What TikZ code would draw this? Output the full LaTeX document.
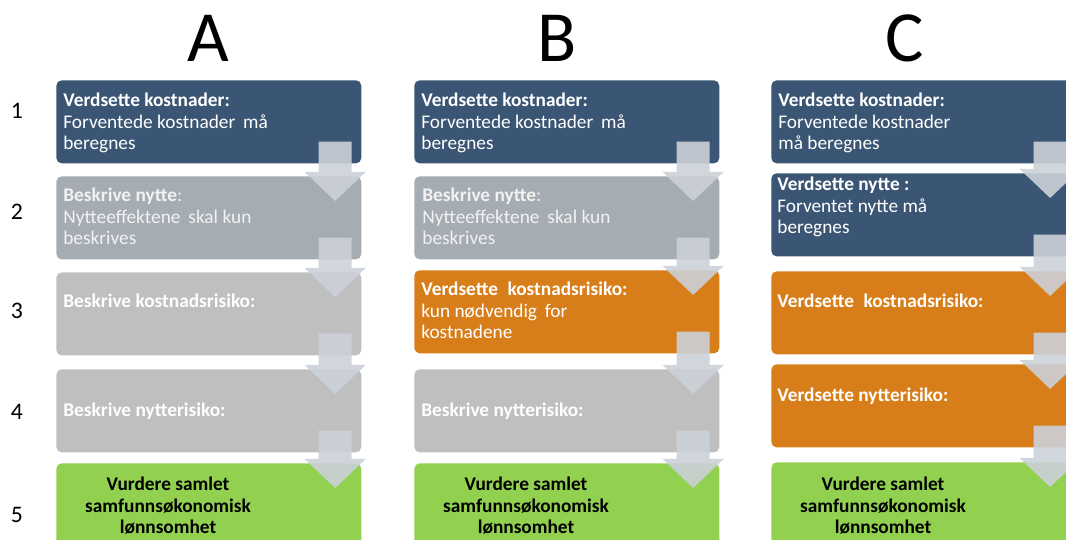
\documentclass[tikz,border=0pt]{standalone}
\usepackage{fontspec}
\setmainfont{Carlito}
\usetikzlibrary{calc}

\definecolor{valblue}{RGB}{59,86,116}
\definecolor{descgray}{RGB}{166,172,179}
\definecolor{riskgray}{RGB}{191,191,191}
\definecolor{riskorange}{RGB}{215,126,26}
\definecolor{sumgreen}{RGB}{146,208,80}
\definecolor{arrowgray}{RGB}{204,209,216}

% block arrow from the lower right of one box into the next
\newcommand{\flowarrow}[2]{%
  \fill[flowarr] ($(#1.south east)+(-43,-22)$) -- ($(#1.south east)+(-10,-22)$)
    -- ($(#2.north east)+(-10,-4)$) -- ($(#2.north east)+(4,-4)$)
    -- ($(#2.north east)+(-26.5,25)$) -- ($(#2.north east)+(-57,-4)$)
    -- ($(#2.north east)+(-43,-4)$) -- cycle;}

\begin{document}
\begin{tikzpicture}[
  x=0.02cm, y=-0.02cm,
  every node/.style={font=\fontsize{11}{12.4}\selectfont},
  stepbox/.style={rounded corners=3pt, anchor=north west, inner sep=0pt, minimum width=6.1cm, minimum height=1.66cm},
  lastbox/.style={stepbox, fill=sumgreen, minimum height=2cm},
  boxtxt/.style={anchor=base west, align=left, inner sep=0pt, text=white},
  midtxt/.style={anchor=west, inner sep=0pt, text=white, font=\fontsize{11}{12.4}\selectfont\bfseries},
  sumtxt/.style={anchor=base, align=center, inner sep=0pt, text=black, font=\fontsize{11}{12.4}\selectfont\bfseries},
  colhead/.style={anchor=base, inner sep=0pt, font=\fontsize{41}{41}\selectfont},
  rownum/.style={anchor=base, inner sep=0pt, font=\fontsize{13.5}{13.5}\selectfont},
  flowarr/.style={fill=arrowgray, fill opacity=0.9}
]
\useasboundingbox (0,0) rectangle (1066,540);
\clip (0,0) rectangle (1066,540);

% column and row headings
\node[colhead] (hA) at (208,62) {A};
\node[colhead] (hB) at (557,62) {B};
\node[colhead] (hC) at (905,62) {C};
\node[rownum] (n1) at (17,119) {1};
\node[rownum] (n2) at (17,220) {2};
\node[rownum] (n3) at (17,319) {3};
\node[rownum] (n4) at (17,420) {4};
\node[rownum] (n5) at (17,523) {5};

% column A
\node[stepbox, fill=valblue] (a1) at (56,80) {};
\node[stepbox, fill=descgray] (a2) at (56,176) {};
\node[stepbox, fill=riskgray] (a3) at (56,272) {};
\node[stepbox, fill=riskgray] (a4) at (56,369) {};
\node[lastbox] (a5) at (56,463) {};

% column B
\node[stepbox, fill=valblue] (b1) at (414,80) {};
\node[stepbox, fill=descgray] (b2) at (414,176) {};
\node[stepbox, fill=riskorange] (b3) at (414,270) {};
\node[stepbox, fill=riskgray] (b4) at (414,369) {};
\node[lastbox] (b5) at (414,463) {};

% column C
\node[stepbox, fill=valblue] (c1) at (771,80) {};
\node[stepbox, fill=valblue] (c2) at (771,173) {};
\node[stepbox, fill=riskorange] (c3) at (771,271) {};
\node[stepbox, fill=riskorange] (c4) at (771,364) {};
\node[lastbox] (c5) at (771,462) {};

% texts (base = last line)
\node[boxtxt] (a1txt) at ($(a1.north west)+(7,70)$) {\textbf{Verdsette kostnader:}\\Forventede kostnader\hspace{2pt} må\\beregnes};
\node[boxtxt, text=white!95!black] (a2txt) at ($(a2.north west)+(7,69)$) {\textbf{Beskrive nytte}:\\Nytteeffektene\hspace{2pt} skal kun\\beskrives};
\node[midtxt] (a3txt) at ($(a3.north west)+(7,29)$) {Beskrive kostnadsrisiko:};
\node[midtxt] (a4txt) at ($(a4.north west)+(7,42)$) {Beskrive nytterisiko:};
\node[sumtxt] (a5txt) at ($(a5.north west)+(112,71)$) {Vurdere samlet\\samfunnsøkonomisk\\lønnsomhet};

\node[boxtxt] (b1txt) at ($(b1.north west)+(7,70)$) {\textbf{Verdsette kostnader:}\\Forventede kostnader\hspace{2pt} må\\beregnes};
\node[boxtxt, text=white!95!black] (b2txt) at ($(b2.north west)+(8,69)$) {\textbf{Beskrive nytte}:\\Nytteeffektene\hspace{2pt} skal kun\\beskrives};
\node[boxtxt] (b3txt) at ($(b3.north west)+(7,69)$) {\textbf{Verdsette\hspace{3pt} kostnadsrisiko:}\\kun nødvendig\hspace{2pt} for\\kostnadene};
\node[midtxt] (b4txt) at ($(b4.north west)+(7,42)$) {Beskrive nytterisiko:};
\node[sumtxt] (b5txt) at ($(b5.north west)+(112,71)$) {Vurdere samlet\\samfunnsøkonomisk\\lønnsomhet};

\node[boxtxt] (c1txt) at ($(c1.north west)+(7,70)$) {\textbf{Verdsette kostnader:}\\Forventede kostnader\\må beregnes};
\node[boxtxt] (c2txt) at ($(c2.north west)+(6,61)$) {\textbf{Verdsette nytte :}\\Forventet nytte må\\beregnes};
\node[midtxt] (c3txt) at ($(c3.north west)+(6,30)$) {Verdsette\hspace{3pt} kostnadsrisiko:};
\node[midtxt] (c4txt) at ($(c4.north west)+(6,32)$) {Verdsette nytterisiko:};
\node[sumtxt] (c5txt) at ($(c5.north west)+(112,72)$) {Vurdere samlet\\samfunnsøkonomisk\\lønnsomhet};

% arrows between steps
\flowarrow{a1}{a2}
\flowarrow{a2}{a3}
\flowarrow{a3}{a4}
\flowarrow{a4}{a5}
\flowarrow{b1}{b2}
\flowarrow{b2}{b3}
\flowarrow{b3}{b4}
\flowarrow{b4}{b5}
\flowarrow{c1}{c2}
\flowarrow{c2}{c3}
\flowarrow{c3}{c4}
\flowarrow{c4}{c5}
\end{tikzpicture}
\end{document}
